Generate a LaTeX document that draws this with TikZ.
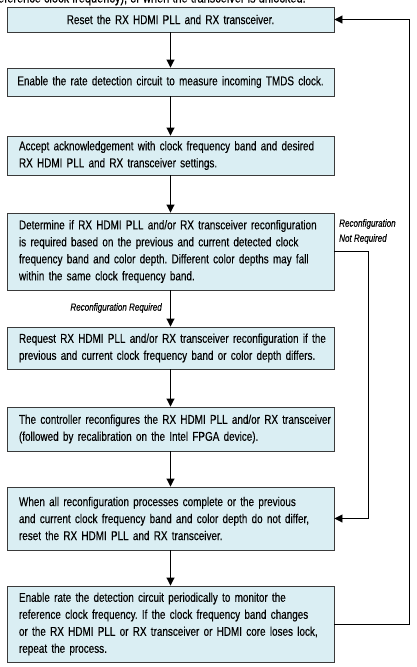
\documentclass[tikz,border=0pt]{standalone}
\usepackage{fontspec}
\setmainfont[FakeStretch=0.775,FakeBold=0.25]{Liberation Sans}
\usetikzlibrary{arrows.meta}
\definecolor{boxfill}{HTML}{DAEEF3}
\definecolor{boxline}{HTML}{3A3A3A}
\newcommand\boxindent{\leftskip=10pt\relax}
\tikzset{
  basebox/.style={draw=boxline, line width=0.9pt, fill=boxfill, minimum width=327pt,
    text width=323pt, inner sep=0pt, font=\fontsize{12.8}{17}\selectfont},
  stepbox/.style={basebox, align=left, execute at begin node=\boxindent},
  titlebox/.style={basebox, align=center},
  conn/.style={line width=0.9pt, -{Triangle[width=8pt,length=8pt]}},
  lab/.style={font=\fontsize{10.4}{15}\selectfont\itshape, inner sep=0pt}
}
\begin{document}
\frenchspacing
\begin{tikzpicture}[x=1pt,y=-1pt]
\useasboundingbox (0,0) rectangle (417,667);
\node[anchor=base east, inner sep=0pt, font=\fontsize{14.2}{16}\selectfont] (cut) at (306,2.5) {reference clock frequency), or when the transceiver is unlocked.};
\node[titlebox, minimum height=25pt] (b1) at (170.5,19.5) {Reset the RX HDMI PLL and RX transceiver.};
\node[titlebox, minimum height=28pt] (b2) at (170.5,82) {Enable the rate detection circuit to measure incoming TMDS clock.};
\node[stepbox, minimum height=39pt] (b3) at (170.5,155.5) {Accept acknowledgement with clock frequency band and desired\\RX HDMI PLL and RX transceiver settings.};
\node[stepbox, minimum height=77pt] (b4) at (170.5,251.5) {Determine if RX HDMI PLL and/or RX transceiver reconfiguration\\is required based on the previous and current detected clock\\frequency band and color depth. Different color depths may fall\\within the same clock frequency band.};
\node[stepbox, minimum height=42pt] (b5) at (170.5,348) {Request RX HDMI PLL and/or RX transceiver reconfiguration if the\\previous and current clock frequency band or color depth differs.};
\node[stepbox, minimum height=44pt] (b6) at (170.5,429) {The controller reconfigures the RX HDMI PLL and/or RX transceiver\\(followed by recalibration on the Intel FPGA device).};
\node[stepbox, minimum height=63pt] (b7) at (170.5,518.5) {When all reconfiguration processes complete or the previous\\and current clock frequency band and color depth do not differ,\\reset the RX HDMI PLL and RX transceiver.};
\node[stepbox, minimum height=76pt] (b8) at (170.5,624) {Enable rate the detection circuit periodically to monitor the\\reference clock frequency. If the clock frequency band changes\\or the RX HDMI PLL or RX transceiver or HDMI core loses lock,\\repeat the process.};
\draw[conn] (b1) -- (b2);
\draw[conn] (b2) -- (b3);
\draw[conn] (b3) -- (b4);
\draw[conn] (b4) -- (b5);
\draw[conn] (b5) -- (b6);
\draw[conn] (b6) -- (b7);
\draw[conn] (b7) -- (b8);
\coordinate (r1) at (368,251.5);
\coordinate (r2) at (368,518.5);
\draw[conn] (b4.east) -- (r1) -- (r2) -- (b7.east);
\coordinate (s1) at (409,624);
\coordinate (s2) at (409,19.5);
\draw[conn] (b8.east) -- (s1) -- (s2) -- (b1.east);
\node[lab, anchor=east] (lreq) at (162,308) {Reconfiguration Required};
\node[lab, anchor=north west, align=left] (lnot) at (339,219) {Reconfiguration\\Not Required};
\end{tikzpicture}
\end{document}
